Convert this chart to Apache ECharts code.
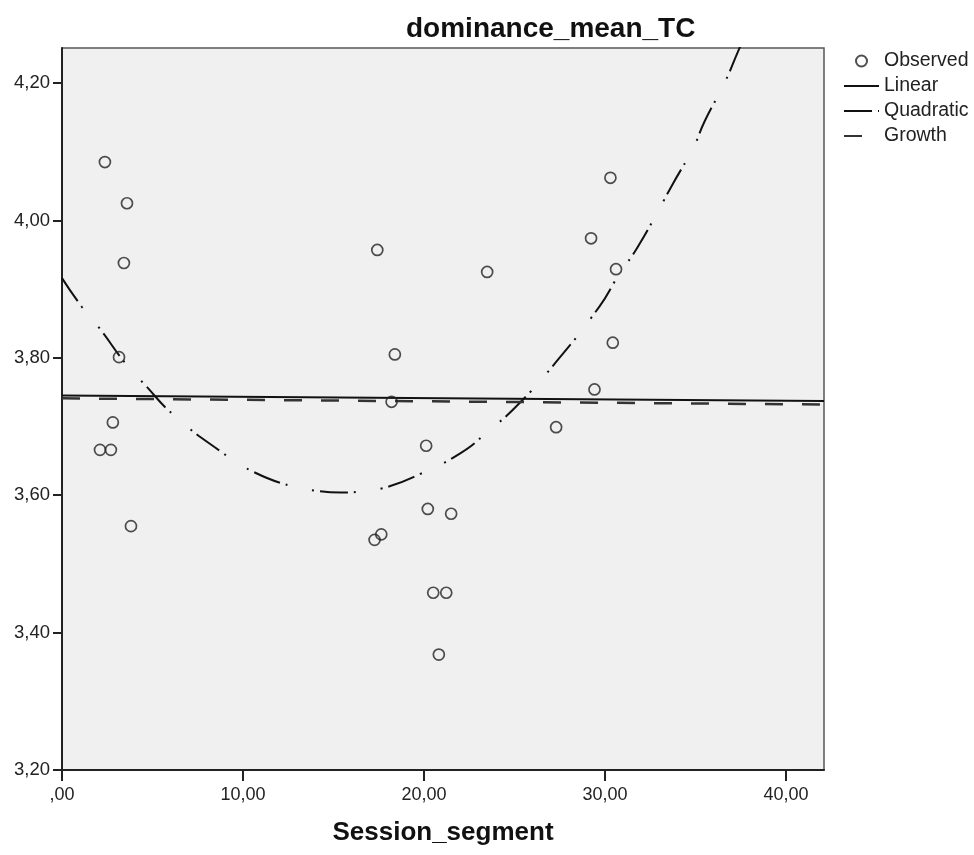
<!DOCTYPE html>
<html>
<head>
<meta charset="utf-8">
<script src="https://cdn.jsdelivr.net/npm/echarts@6/dist/echarts.min.js"></script>
<style>
html,body{margin:0;padding:0;background:#fff;}
#chart{width:974px;height:855px;}
</style>
</head>
<body>
<div id="chart"></div>
<script>
// Observed points
const obsX = [2.37, 3.59, 3.42, 3.15, 2.81, 2.10, 2.70, 3.81,
              17.42, 23.49, 18.39, 18.21, 20.12, 20.21, 21.50, 17.64, 17.27, 20.51, 21.23, 20.82,
              30.30, 29.23, 30.61, 30.43, 29.42, 27.30];
const obsY = [4.085, 4.025, 3.938, 3.801, 3.706, 3.666, 3.666, 3.555,
              3.957, 3.925, 3.805, 3.736, 3.672, 3.580, 3.573, 3.543, 3.535, 3.458, 3.458, 3.368,
              4.062, 3.974, 3.929, 3.822, 3.754, 3.699];
// Linear fit (read at the plot edges)
const linX = [0, 42.1];
const linY = [3.745, 3.737];
// Growth fit
const growX = [0, 42.1];
const growY = [3.741, 3.732];
// Quadratic fit
const quadX = [0, 1.1, 2.1, 3.5, 4.5, 6.2, 8.8, 10.5, 12.7, 14.2, 15.4, 16.7, 18.1, 19.8,
               22.0, 23.5, 25.2, 27.3, 29.7, 30.7, 31.8, 33.0, 33.7, 34.9, 35.5, 36.6, 37.4, 38.0];
const quadY = [3.916, 3.874, 3.842, 3.792, 3.763, 3.716, 3.663, 3.635, 3.613, 3.606, 3.604, 3.606, 3.613, 3.631,
               3.661, 3.692, 3.732, 3.794, 3.875, 3.918, 3.961, 4.017, 4.051, 4.107, 4.144, 4.200, 4.249, 4.285];
// Ticks
const xTicks = [0, 10, 20, 30, 40];
const yTicks = [3.2, 3.4, 3.6, 3.8, 4.0, 4.2];

const zip = (a, b) => a.map((v, i) => [v, b[i]]);
const fmt = v => { let s = Number(v).toFixed(2).replace('.', ','); if (s.startsWith('0,')) s = s.slice(1); return s; };
const FONT = 'Liberation Sans, Arial, sans-serif';
const hideSym = {opacity: 0};

const chart = echarts.init(document.getElementById('chart'), null, {renderer: 'canvas'});
chart.setOption({
  animation: false,
  backgroundColor: '#ffffff',
  title: {
    text: 'dominance_mean_TC',
    left: 406, top: 15, padding: 0,
    textStyle: {fontFamily: FONT, fontSize: 28, fontWeight: 'bold', color: '#111'}
  },
  legend: {
    orient: 'vertical', left: 843, top: 51, padding: 0,
    itemWidth: 35, itemHeight: 11, itemGap: 5,
    textStyle: {fontFamily: FONT, fontSize: 19.5, color: '#222', lineHeight: 19},
    data: [
      {name: 'Observed'},
      {name: 'Linear', itemStyle: hideSym},
      {name: 'Quadratic', itemStyle: hideSym},
      {name: 'Growth', itemStyle: hideSym}
    ]
  },
  grid: {
    left: 62, top: 48, right: 150, bottom: 85,
    show: true, backgroundColor: '#f0f0f0', borderColor: '#555', borderWidth: 1.5
  },
  xAxis: {
    type: 'value', min: 0, max: 42.1, interval: 10,
    name: 'Session_segment', nameLocation: 'middle', nameGap: 50,
    nameTextStyle: {fontFamily: FONT, fontSize: 26, fontWeight: 'bold', color: '#111'},
    axisLine: {lineStyle: {color: '#222', width: 2}},
    axisTick: {show: true, length: 11, lineStyle: {color: '#222', width: 2}, customValues: xTicks},
    axisLabel: {customValues: xTicks, formatter: fmt, margin: 16,
                fontFamily: FONT, fontSize: 18, color: '#222'},
    splitLine: {show: false}
  },
  yAxis: {
    type: 'value', min: 3.2, max: 4.251, interval: 0.2,
    axisLine: {show: true, lineStyle: {color: '#222', width: 2}},
    axisTick: {show: true, length: 9, lineStyle: {color: '#222', width: 2}, customValues: yTicks},
    axisLabel: {customValues: yTicks, formatter: fmt, margin: 12,
                fontFamily: FONT, fontSize: 18.5, color: '#222'},
    splitLine: {show: false}
  },
  series: [
    {
      name: 'Observed', type: 'scatter', data: zip(obsX, obsY),
      symbol: 'circle', symbolSize: 11,
      itemStyle: {color: 'rgba(0,0,0,0)', borderColor: '#222', borderWidth: 1.7},
      z: 5
    },
    {
      name: 'Linear', type: 'line', data: zip(linX, linY),
      showSymbol: false, symbol: 'none',
      lineStyle: {color: '#111', width: 2, type: 'solid'},
      itemStyle: {color: '#111'}
    },
    {
      name: 'Quadratic', type: 'line', data: zip(quadX, quadY),
      showSymbol: false, symbol: 'none', smooth: true,
      lineStyle: {color: '#111', width: 2, type: [28, 6, 2, 25, 2, 6]},
      itemStyle: {color: '#111'}
    },
    {
      name: 'Growth', type: 'line', data: zip(growX, growY),
      showSymbol: false, symbol: 'none',
      lineStyle: {color: '#333', width: 2.5, type: [18, 19]},
      itemStyle: {color: '#333'}
    }
  ]
});
</script>
</body>
</html>
